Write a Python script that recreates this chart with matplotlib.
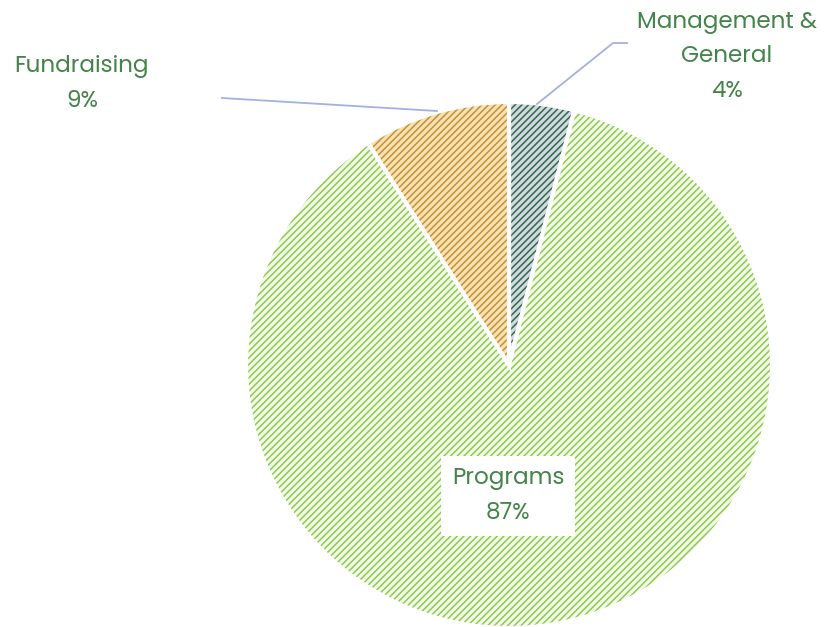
import matplotlib.pyplot as plt
import matplotlib.colors as mcolors

# data
categories = ["Management &\nGeneral", "Programs", "Fundraising"]
shares = [4, 87, 9]

face_colors = ["#d3d8e8", "#f4f9ee", "#f6e2b8"]
hatch_colors = ["#2f6d3a", "#8ccc46", "#c9912c"]
text_color = "#44844a"
line_color = "#a3b0e2"

plt.rcParams["font.family"] = ["Poppins", "Lato", "DejaVu Sans"]

fig = plt.figure(figsize=(8.25, 6.27), dpi=100)
# pie centre at (509, 365) px, radius 263 px
ax = fig.add_axes([246 / 825, (627 - 365 - 263) / 627, 526 / 825, 526 / 627])

wedges, _ = ax.pie(shares, startangle=90, counterclock=False,
                   wedgeprops=dict(edgecolor="white", linewidth=3))
for w, fc, hc in zip(wedges, face_colors, hatch_colors):
    w.set_facecolor(fc)
    w.set_hatch("/////")
    w.set_hatch_linewidth(1.1)
    w._hatch_color = mcolors.to_rgba(hc)
ax.set_xlim(-1, 1)
ax.set_ylim(-1, 1)
ax.set_aspect("equal")


def px(x, y):
    return (x - 509) / 263, (365 - y) / 263


# leader lines
xs, ys = zip(px(222, 98), px(437, 111))
ax.plot(xs, ys, color=line_color, lw=1.3, clip_on=False)
xs, ys = zip(px(537, 104), px(613, 43), px(627, 43))
ax.plot(xs, ys, color=line_color, lw=1.3, clip_on=False)

# labels
style = dict(ha="center", va="center", color=text_color, fontsize=16.6,
             linespacing=1.68, clip_on=False)
ax.text(*px(727, 57), f"{categories[0]}\n{shares[0]}%", **style)
ax.text(*px(82, 84), f"{categories[2]}\n{shares[2]}%", **style)
ax.text(*px(508, 496), f"{categories[1]}\n{shares[1]}%",
        bbox=dict(facecolor="white", edgecolor="none", pad=8), **style)

fig.savefig("out.png", dpi=100)
